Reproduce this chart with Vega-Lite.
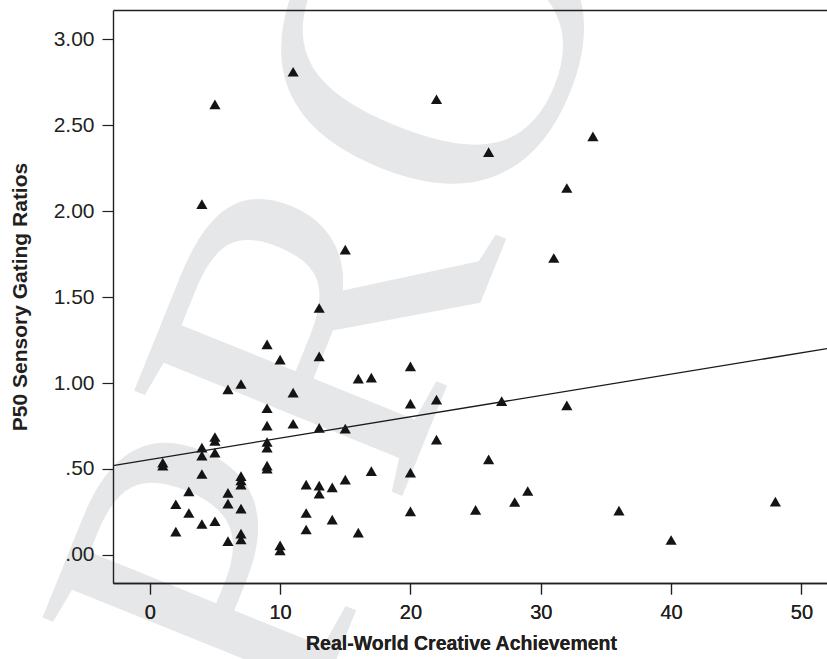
{
  "$schema": "https://vega.github.io/schema/vega-lite/v6.json",
  "width": 714,
  "height": 573,
  "autosize": {"type": "none"},
  "padding": {"left": 113, "top": 10, "right": 0, "bottom": 76},
  "background": "white",
  "config": {
    "view": {"stroke": null},
    "axis": {
      "labelFont": "Liberation Sans",
      "labelFontSize": 20,
      "labelColor": "#231f20",
      "titleFont": "Liberation Sans",
      "titleFontSize": 19.5,
      "titleFontWeight": "bold",
      "titleColor": "#231f20",
      "domainColor": "#231f20",
      "domainWidth": 1.4,
      "tickColor": "#231f20",
      "tickWidth": 1.2,
      "tickSize": 11,
      "grid": false
    }
  },
  "encoding": {
    "x": {
      "field": "x", "type": "quantitative",
      "scale": {"domain": [-2.82, 51.96], "nice": false, "zero": false},
      "axis": {"orient": "bottom", "zindex": 2, "values": [0, 10, 20, 30, 40, 50], "labelPadding": 8, "title": "Real-World Creative Achievement", "titlePadding": 12, "titleX": 348}
    },
    "y": {
      "field": "y", "type": "quantitative",
      "scale": {"domain": [-0.163, 3.169], "nice": false, "zero": false},
      "axis": {
        "zindex": 2,
        "values": [0, 0.5, 1, 1.5, 2, 2.5, 3],
        "labelExpr": "datum.value < 1 ? replace(format(datum.value, '.2f'), '0.', '.') : format(datum.value, '.2f')",
        "labelFontSize": 21,
        "labelPadding": 8,
        "title": "P50 Sensory Gating Ratios",
        "titleFontSize": 21,
        "titlePadding": 23
      }
    }
  },
  "layer": [
    {
      "data": {"values": [{"label": "PROOF", "x": 11.9, "y": -1.06}]},
      "mark": {"type": "text", "font": "Liberation Serif", "fontSize": 440, "angle": -68, "align": "left", "baseline": "alphabetic", "color": "#e6e7e9", "clip": false},
      "encoding": {"text": {"field": "label", "type": "nominal"}}
    },
    {
      "data": {
        "values": [
          {"x": 1, "y": 0.537}, {"x": 1, "y": 0.52},
          {"x": 2, "y": 0.295}, {"x": 2, "y": 0.136},
          {"x": 3, "y": 0.37}, {"x": 3, "y": 0.244},
          {"x": 4, "y": 2.04}, {"x": 4, "y": 0.624}, {"x": 4, "y": 0.578}, {"x": 4, "y": 0.471}, {"x": 4, "y": 0.18},
          {"x": 5, "y": 2.62}, {"x": 5, "y": 0.686}, {"x": 5, "y": 0.663}, {"x": 5, "y": 0.595}, {"x": 5, "y": 0.196},
          {"x": 6, "y": 0.963}, {"x": 6, "y": 0.361}, {"x": 6, "y": 0.299}, {"x": 6, "y": 0.08},
          {"x": 7, "y": 0.994}, {"x": 7, "y": 0.459}, {"x": 7, "y": 0.434}, {"x": 7, "y": 0.409}, {"x": 7, "y": 0.27}, {"x": 7, "y": 0.124}, {"x": 7, "y": 0.09},
          {"x": 9, "y": 1.225}, {"x": 9, "y": 0.853}, {"x": 9, "y": 0.752}, {"x": 9, "y": 0.657}, {"x": 9, "y": 0.624}, {"x": 9, "y": 0.52}, {"x": 9, "y": 0.502},
          {"x": 10, "y": 1.136}, {"x": 10, "y": 0.056}, {"x": 10, "y": 0.027},
          {"x": 11, "y": 2.81}, {"x": 11, "y": 0.944}, {"x": 11, "y": 0.763},
          {"x": 12, "y": 0.409}, {"x": 12, "y": 0.244}, {"x": 12, "y": 0.148},
          {"x": 13, "y": 1.436}, {"x": 13, "y": 1.155}, {"x": 13, "y": 0.739}, {"x": 13, "y": 0.403}, {"x": 13, "y": 0.356},
          {"x": 14, "y": 0.393}, {"x": 14, "y": 0.206},
          {"x": 15, "y": 1.776}, {"x": 15, "y": 0.735}, {"x": 15, "y": 0.438},
          {"x": 16, "y": 1.025}, {"x": 16, "y": 0.13},
          {"x": 17, "y": 1.031}, {"x": 17, "y": 0.488},
          {"x": 20, "y": 1.097}, {"x": 20, "y": 0.88}, {"x": 20, "y": 0.479}, {"x": 20, "y": 0.254},
          {"x": 22, "y": 2.65}, {"x": 22, "y": 0.903}, {"x": 22, "y": 0.671},
          {"x": 25, "y": 0.262},
          {"x": 26, "y": 2.343}, {"x": 26, "y": 0.556},
          {"x": 27, "y": 0.895},
          {"x": 28, "y": 0.308},
          {"x": 29, "y": 0.372},
          {"x": 31, "y": 1.727},
          {"x": 32, "y": 2.134}, {"x": 32, "y": 0.87},
          {"x": 34, "y": 2.434},
          {"x": 36, "y": 0.258},
          {"x": 40, "y": 0.087},
          {"x": 48, "y": 0.31}
        ]
      },
      "mark": {"type": "point", "shape": "triangle-up", "filled": true, "color": "#141414", "opacity": 1, "size": 125}
    },
    {
      "data": {"values": [{"x": -2.82, "y": 0.52}, {"x": 51.96, "y": 1.2}]},
      "mark": {"type": "line", "color": "#1a1a1a", "strokeWidth": 1.3},
      "encoding": {
        "x": {"field": "x", "type": "quantitative", "axis": {"orient": "top", "zindex": 2, "labels": false, "ticks": false, "title": null, "domain": true}}
      }
    }
  ],
  "resolve": {"axis": {"x": "independent"}}
}
